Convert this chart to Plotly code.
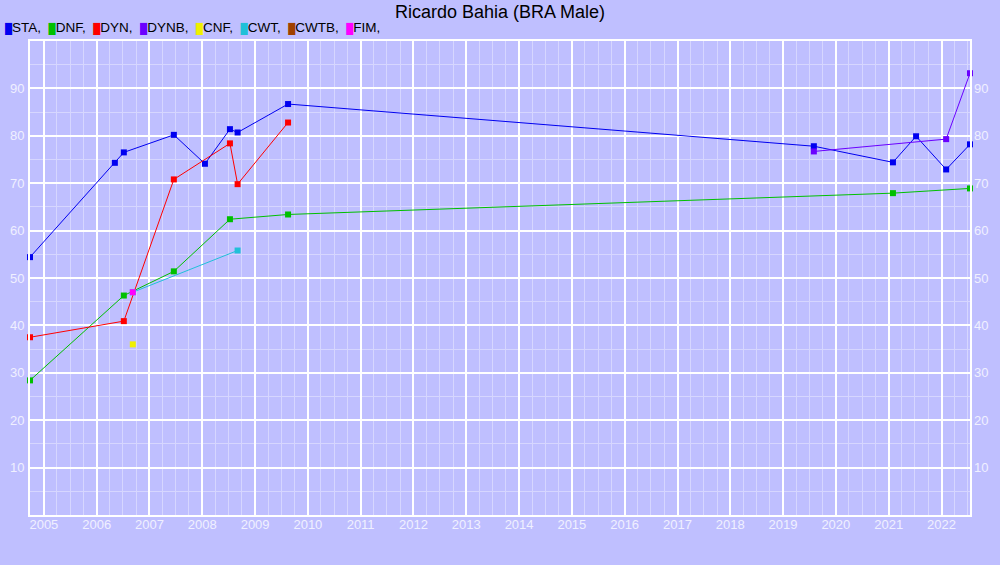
import plotly.graph_objects as go

title = "Ricardo Bahia (BRA Male)"

sta_dates = ["2004-09-27", "2006-05-07", "2006-07-08", "2007-06-19", "2008-01-20",
             "2008-07-11", "2008-09-02", "2009-08-17", "2019-08-02", "2021-01-30",
             "2021-07-09", "2022-02-02", "2022-07-17"]
sta_vals = [54.4, 74.3, 76.5, 80.2, 74.1, 81.4, 80.7, 86.7, 77.8, 74.4, 79.9, 72.9, 78.2]

dnf_dates = ["2004-09-27", "2006-07-08", "2007-06-19", "2008-07-11", "2009-08-17",
             "2021-01-30", "2022-07-17"]
dnf_vals = [28.4, 46.3, 51.4, 62.4, 63.4, 67.9, 68.9]

dyn_dates = ["2004-09-27", "2006-07-08", "2007-06-19", "2008-07-11", "2008-09-02", "2009-08-17"]
dyn_vals = [37.5, 40.9, 70.8, 78.4, 69.8, 82.8]

dynb_dates = ["2019-08-02", "2022-02-02", "2022-07-17"]
dynb_vals = [76.7, 79.3, 93.2]

cnf_dates = ["2006-09-08"]
cnf_vals = [36.0]

cwt_dates = ["2006-09-08", "2008-09-02"]
cwt_vals = [47.0, 55.8]

cwtb_dates = []
cwtb_vals = []

fim_dates = ["2006-09-08"]
fim_vals = [47.0]

series = [
    ("STA", sta_dates, sta_vals, "#0000f0"),
    ("DNF", dnf_dates, dnf_vals, "#00c000"),
    ("DYN", dyn_dates, dyn_vals, "#ff0000"),
    ("DYNB", dynb_dates, dynb_vals, "#6a00ff"),
    ("CNF", cnf_dates, cnf_vals, "#f0f000"),
    ("CWT", cwt_dates, cwt_vals, "#20c0d8"),
    ("CWTB", cwtb_dates, cwtb_vals, "#a04000"),
    ("FIM", fim_dates, fim_vals, "#ff00ff"),
]

y_ticks = [10, 20, 30, 40, 50, 60, 70, 80, 90]
x_range = ["2004-09-27", "2022-07-17"]
y_range = [0, 100]

BG = "#bfbfff"
FONT = "Liberation Sans, Arial, sans-serif"
TICK_COLOR = "#f0f0ff"

fig = go.Figure()
for name, d, v, c in series:
    fig.add_trace(go.Scatter(
        x=d, y=v, name=name, mode="lines+markers",
        line=dict(color=c, width=1),
        marker=dict(symbol="square", size=6, color=c),
        cliponaxis=False, showlegend=False,
    ))
# invisible trace to anchor the right-hand axis
fig.add_trace(go.Scatter(x=x_range, y=y_range, yaxis="y2", mode="none",
                         showlegend=False, hoverinfo="skip"))

legend_text = "".join(
    f'<span style="color:{c};font-size:10px">█</span>{name},\u00a0\u00a0'
    for name, _, _, c in series
)
fig.add_annotation(
    text=legend_text, xref="paper", yref="paper", x=-0.0285, y=1.027,
    xanchor="left", yanchor="middle", showarrow=False,
    font=dict(family=FONT, size=13.5, color="#000000"),
)

axis_common = dict(
    showline=True, linecolor="#ffffff", linewidth=2, mirror=True,
    zeroline=False, ticks="", automargin=False,
)

fig.update_layout(
    width=1000, height=565,
    paper_bgcolor=BG, plot_bgcolor=BG,
    margin=dict(l=30, r=30, t=41, b=50, autoexpand=False),
    title=dict(text=title, x=0.5, xanchor="center", y=0.98, yanchor="middle",
               font=dict(family=FONT, size=18, color="#000000")),
    font=dict(family=FONT, size=13, color=TICK_COLOR),
    showlegend=False,
    xaxis=dict(
        type="date", range=x_range, tick0="2005-01-01", dtick="M12",
        tickformat="%Y", gridcolor="#ffffff", gridwidth=1.5,
        tickfont=dict(family=FONT, size=13, color=TICK_COLOR),
        ticklabelstandoff=-4,
        minor=dict(dtick="M3", tick0="2005-01-01", showgrid=True,
                   gridcolor="#d6d6ff", gridwidth=1),
        **axis_common,
    ),
    yaxis=dict(
        range=y_range, tickvals=y_ticks, gridcolor="#ffffff", gridwidth=1.5,
        tickfont=dict(family=FONT, size=13, color=TICK_COLOR),
        ticklabelstandoff=1,
        minor=dict(dtick=5, tick0=0, showgrid=True, gridcolor="#d6d6ff", gridwidth=1),
        **axis_common,
    ),
    yaxis2=dict(
        range=y_range, tickvals=y_ticks, overlaying="y", side="right",
        showgrid=False, zeroline=False, ticks="", ticklabelstandoff=3,
        automargin=False,
        tickfont=dict(family=FONT, size=13, color=TICK_COLOR),
    ),
)

fig.write_html("out.html", config={"displayModeBar": False},
               post_script="document.body.style.margin='0';document.body.style.background='%s';" % BG)
